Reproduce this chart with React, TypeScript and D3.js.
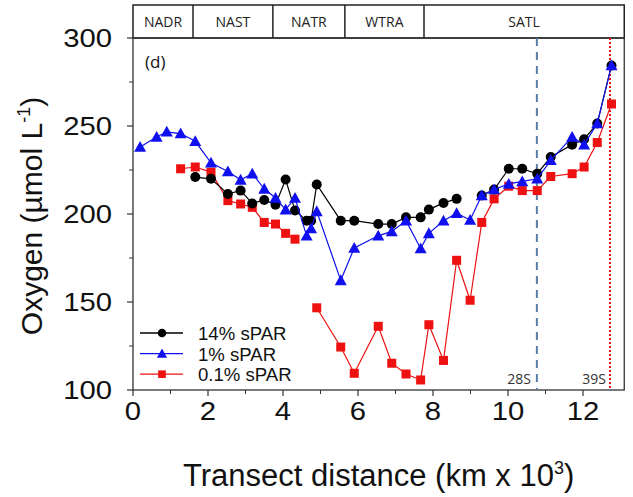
import React from "react";
import * as d3 from "d3";

// Station positions along transect (km x 10^3)
const stations = [
  0.19, 0.63, 0.9, 1.27, 1.66, 2.08, 2.53, 2.87, 3.18, 3.5, 3.8, 4.07, 4.32, 4.63, 4.75, 4.9,
  5.54, 5.9, 6.54, 6.9, 7.28, 7.67, 7.89, 8.28, 8.63, 8.99, 9.3, 9.63, 10.02, 10.38, 10.78,
  11.14, 11.71, 12.03, 12.38, 12.76,
];

// Oxygen (µmol L-1) per station; null = no sample
const spar14: (number | null)[] = [
  null, null, null, null, 221, 220, 211.4, 213.3, 206, 208, 205.3, 219.6, 202, 196.2, 196.2, 216.8,
  196.2, 196.2, 194.3, 194.3, 198.1, 198.1, 202.5, 206.3, 208.6, null, 210.5, 213.9, 225.7, 225.7, 222.9,
  232.4, 239.4, 242.5, 251.4, 284.4,
];
const spar1: (number | null)[] = [
  238.1, 243.8, 246.7, 245.7, 241.3, 229.1, 224.2, 219.4, 222.9, 214.3, 209.1, 202.5, 209.1, 187.6, 191.8, 201.5,
  162.3, 180.7, 187.6, 190.1, 196.2, 180.4, 189, 196.2, 200.4, 196.6, 210.5, 213.9, 217.1, 218.5, 220,
  230.5, 243.8, 239.4, 251.4, 284.4,
];
const spar01: (number | null)[] = [
  null, null, null, 225.7, 226.7, 223.8, 207.6, 205.7, 203.8, 195.2, 194.3, 189, 185.7, null, null, 146.7,
  124.4, 109.5, 136.2, 115.2, 109.1, 105.7, 137.1, 116.8, 173.7, 151, 195.2, 208.6, 215.8, 213.3, 213.3,
  221.3, 222.9, 226.7, 240.6, 262.5,
];

const provinces = ["NADR", "NAST", "NATR", "WTRA", "SATL"];
const provinceBounds = [0, 1.6, 3.73, 5.65, 7.76, 13.1];

const xTicks = [0, 2, 4, 6, 8, 10, 12];
const xMinor = [1, 3, 5, 7, 9, 11];
const yTicks = [100, 150, 200, 250, 300];
const yMinor = [125, 175, 225, 275];

const line28S = 10.77;
const line39S = 12.72;

const seriesNames = ["14% sPAR", "1% sPAR", "0.1% sPAR"];
const seriesColors = ["#000000", "#1010ee", "#ee1111"];
const seriesShapes = ["circle", "triangle", "square"];

const W = 633;
const H = 497;

function Marker({ shape, x, y, color, k = 1 }: { shape: string; x: number; y: number; color: string; k?: number }) {
  if (shape === "circle") return <circle cx={x} cy={y} r={5 * k} fill={color} />;
  if (shape === "triangle") {
    const s = 6 * k;
    return <path d={`M${x},${y - s} L${x + s},${y + s * 0.8} L${x - s},${y + s * 0.8} Z`} fill={color} />;
  }
  const h = 4.5 * k;
  return <rect x={x - h} y={y - h} width={2 * h} height={2 * h} fill={color} />;
}

export default function App() {
  const left = 133;
  const right = 624.25;
  const top = 38;
  const bottom = 390;
  const bandTop = 5;

  const x = d3.scaleLinear().domain([0, 13.1]).range([left, right]);
  const y = d3.scaleLinear().domain([100, 300]).range([bottom, top]);

  const allSeries = [spar14, spar1, spar01];

  const lineGen = d3
    .line<[number, number | null]>()
    .defined((d) => d[1] !== null)
    .x((d) => x(d[0]))
    .y((d) => y(d[1] as number));

  const font = "'Liberation Sans', Arial, sans-serif";
  const font2 = "'Open Sans', 'Noto Sans', sans-serif";

  const drawOrder = [2, 0, 1];
  const stretch = 1.17;

  return (
    <svg width={W} height={H} style={{ position: "absolute", left: 0, top: 0, background: "#fff" }}>
      <rect x={0} y={0} width={W} height={H} fill="#fff" />
      {/* Province band */}
      <rect x={left} y={bandTop} width={right - left} height={top - bandTop} fill="none" stroke="#222" strokeWidth={1.5} />
      {provinces.map((p, i) => {
        const x0 = x(provinceBounds[i]);
        const x1 = x(provinceBounds[i + 1]);
        return (
          <g key={p}>
            {i > 0 && <line x1={x0} x2={x0} y1={bandTop} y2={top} stroke="#222" strokeWidth={1.5} />}
            <text x={(x0 + x1) / 2} y={(bandTop + top) / 2 + 5} textAnchor="middle" fontFamily={font2} fontSize={14} fill="#222">
              {p}
            </text>
          </g>
        );
      })}

      {/* Plot frame */}
      <rect x={left} y={top} width={right - left} height={bottom - top} fill="none" stroke="#333" strokeWidth={1.3} />

      {/* Reference lines */}
      <line x1={x(line28S)} x2={x(line28S)} y1={top} y2={bottom} stroke="#5a7ea6" strokeWidth={2} strokeDasharray="8,6" />
      <line x1={x(line39S)} x2={x(line39S)} y1={top} y2={bottom} stroke="#ee1111" strokeWidth={2} strokeDasharray="2,2" />
      <text x={x(line28S) - 6} y={bottom - 6} textAnchor="end" fontFamily={font2} fontSize={14} fill="#333">28S</text>
      <text x={x(line39S) - 4} y={bottom - 6} textAnchor="end" fontFamily={font2} fontSize={14} fill="#333">39S</text>

      {/* X axis ticks */}
      {xTicks.map((t) => (
        <g key={"xt" + t}>
          <line x1={x(t)} x2={x(t)} y1={bottom} y2={bottom + 6} stroke="#333" strokeWidth={1.2} />
          <text
            transform={`translate(${x(t)},${bottom + 30}) scale(${stretch},1)`}
            textAnchor="middle"
            fontFamily={font}
            fontSize={25}
            fill="#111"
          >
            {t}
          </text>
        </g>
      ))}
      {xMinor.map((t) => (
        <line key={"xm" + t} x1={x(t)} x2={x(t)} y1={bottom} y2={bottom + 4} stroke="#333" strokeWidth={1} />
      ))}

      {/* Y axis ticks */}
      {yTicks.map((t) => (
        <g key={"yt" + t}>
          <line x1={left - 6} x2={left} y1={y(t)} y2={y(t)} stroke="#333" strokeWidth={1.2} />
          <text
            transform={`translate(${left - 21},${y(t) + 9}) scale(${stretch},1)`}
            textAnchor="end"
            fontFamily={font}
            fontSize={25}
            fill="#111"
          >
            {t}
          </text>
        </g>
      ))}
      {yMinor.map((t) => (
        <line key={"ym" + t} x1={left - 4} x2={left} y1={y(t)} y2={y(t)} stroke="#333" strokeWidth={1} />
      ))}

      {/* Axis titles */}
      <text x={(left + right) / 2} y={486} textAnchor="middle" fontFamily={font} fontSize={31} fill="#111">
        Transect distance (km x 10
        <tspan dy={-12} fontSize={18}>3</tspan>
        <tspan dy={12}>)</tspan>
      </text>
      <text
        transform={`translate(42,${(top + bottom) / 2 + 2}) rotate(-90)`}
        textAnchor="middle"
        fontFamily={font}
        fontSize={30}
        fill="#111"
      >
        Oxygen (µmol L
        <tspan dy={-12} fontSize={18}>-1</tspan>
        <tspan dy={12}>)</tspan>
      </text>

      <text x={145} y={68} fontFamily={font2} fontSize={17} fill="#111">(d)</text>

      {/* Series */}
      {drawOrder.map((si) => {
        const data = stations.map((s, i) => [s, allSeries[si][i]] as [number, number | null]);
        return (
          <g key={"s" + si}>
            <path d={lineGen(data) || ""} fill="none" stroke={seriesColors[si]} strokeWidth={1.2} />
            {data
              .filter((d) => d[1] !== null)
              .map((d, i) => (
                <Marker key={i} shape={seriesShapes[si]} x={x(d[0])} y={y(d[1] as number)} color={seriesColors[si]} />
              ))}
          </g>
        );
      })}

      {/* Legend */}
      {seriesNames.map((n, i) => {
        const ly = 333 + i * 20.6;
        return (
          <g key={n}>
            <line x1={140} x2={183} y1={ly} y2={ly} stroke={seriesColors[i]} strokeWidth={1.3} />
            <Marker shape={seriesShapes[i]} x={162} y={ly} color={seriesColors[i]} k={0.85} />
            <text x={198} y={ly + 7} fontFamily={font} fontSize={18.6} fill="#111">
              {n}
            </text>
          </g>
        );
      })}
    </svg>
  );
}
